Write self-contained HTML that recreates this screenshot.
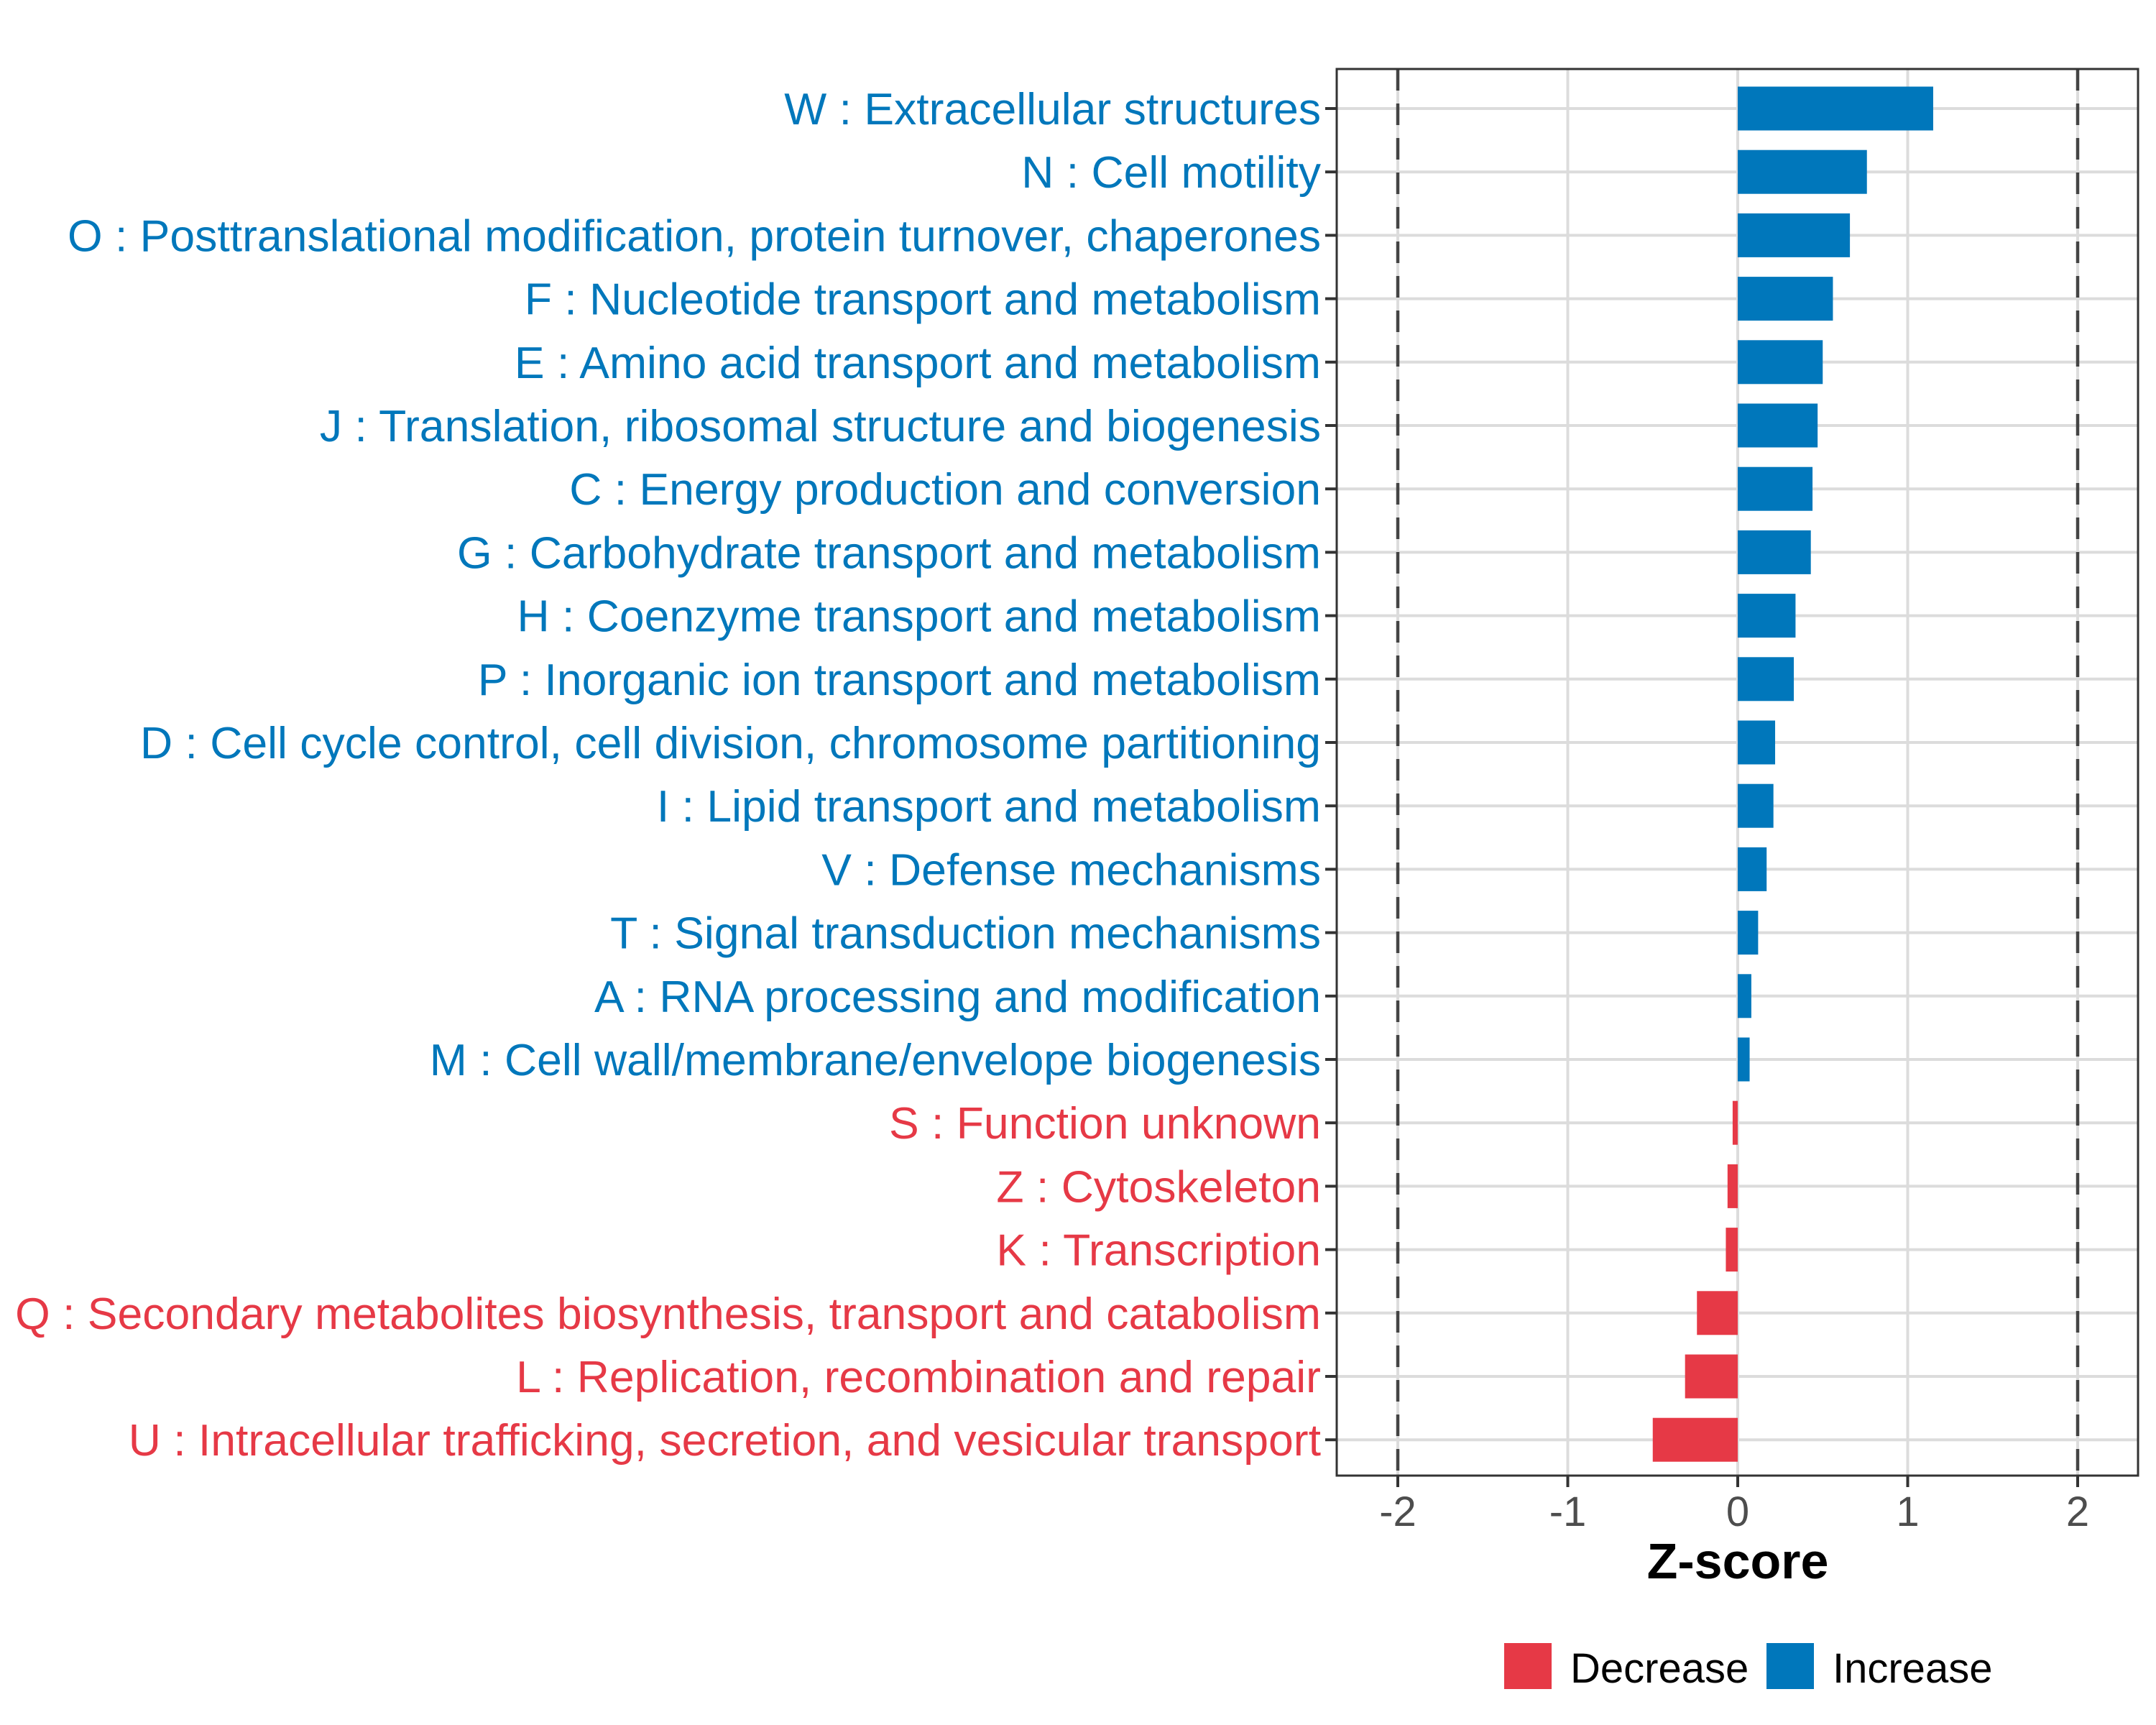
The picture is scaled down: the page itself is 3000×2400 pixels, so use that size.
<!DOCTYPE html>
<html><head><meta charset="utf-8"><style>
html,body{margin:0;padding:0;background:#fff;}
svg{display:block;font-family:"Liberation Sans",sans-serif;}
</style></head><body>
<svg id="chart" width="3000" height="2400" viewBox="0 0 3000 2400">
<rect x="0" y="0" width="3000" height="2400" fill="#fff"/>
<g id="grid"></g>
<g id="bars"></g>
<g id="ylabels"></g>
<g id="xaxis"></g>
<text x="2418" y="2196" text-anchor="middle" font-size="70" font-weight="bold" fill="#000">Z-score</text>
<g>
  <rect x="2093" y="2286" width="66" height="64" fill="#E63946"/>
  <text x="2185" y="2341" font-size="58" fill="#000">Decrease</text>
  <rect x="2458" y="2286" width="66" height="64" fill="#0077BB"/>
  <text x="2550" y="2341" font-size="58" fill="#000">Increase</text>
</g>
</svg>
<script>
const categories = [
"W : Extracellular structures",
"N : Cell motility",
"O : Posttranslational modification, protein turnover, chaperones",
"F : Nucleotide transport and metabolism",
"E : Amino acid transport and metabolism",
"J : Translation, ribosomal structure and biogenesis",
"C : Energy production and conversion",
"G : Carbohydrate transport and metabolism",
"H : Coenzyme transport and metabolism",
"P : Inorganic ion transport and metabolism",
"D : Cell cycle control, cell division, chromosome partitioning",
"I : Lipid transport and metabolism",
"V : Defense mechanisms",
"T : Signal transduction mechanisms",
"A : RNA processing and modification",
"M : Cell wall/membrane/envelope biogenesis",
"S : Function unknown",
"Z : Cytoskeleton",
"K : Transcription",
"Q : Secondary metabolites biosynthesis, transport and catabolism",
"L : Replication, recombination and repair",
"U : Intracellular trafficking, secretion, and vesicular transport"];
const zscores = [1.15,0.76,0.66,0.56,0.50,0.47,0.44,0.43,0.34,0.33,0.22,0.21,0.17,0.12,0.08,0.07,-0.03,-0.06,-0.07,-0.24,-0.31,-0.50];
const xTicks = [-2,-1,0,1,2];
const xTickLabels = ["-2","-1","0","1","2"];
const thresholds = [-2,2];

const NS="http://www.w3.org/2000/svg";
const PL=1860, PR=2975, PT=96, PB=2053;
const X0=2418, UNIT=236.5;
const ROW0=151, ROWSTEP=88.2, BARH=61;
const BLUE="#0077BB", RED="#E63946";
function xScale(v){return X0+v*UNIT;}
function yScale(i){return ROW0+i*ROWSTEP;}
function mk(tag,attrs,parent){const e=document.createElementNS(NS,tag);for(const k in attrs)e.setAttribute(k,attrs[k]);parent.appendChild(e);return e;}
const grid=document.getElementById('grid'), bars=document.getElementById('bars'), yl=document.getElementById('ylabels'), xa=document.getElementById('xaxis');

xTicks.forEach((t,i)=>{
  const l=mk('line',{x1:xScale(t),x2:xScale(t),y1:PT,y2:PB,stroke:'#dcdcdc','stroke-width':4},grid);
  
  
});
categories.forEach((c,i)=>{
  const l=mk('line',{x1:PL,x2:PR,y1:yScale(i),y2:yScale(i),stroke:'#dcdcdc','stroke-width':4},grid);
  
  
});
categories.forEach((c,i)=>{
  const v=zscores[i];
  const col=v>=0?BLUE:RED;
  const x1=xScale(Math.min(0,v)), x2=xScale(Math.max(0,v));
  const r=mk('rect',{x:x1,y:yScale(i)-BARH/2,width:x2-x1,height:BARH,fill:col},bars);
  
  
  const t=mk('text',{x:1838,y:yScale(i)+22,'text-anchor':'end','font-size':62.5,fill:col},yl);
  t.textContent=c;
  
  
  const tk=mk('line',{x1:PL-16,x2:PL,y1:yScale(i),y2:yScale(i),stroke:'#333','stroke-width':4},yl);
  
  
});
thresholds.forEach(t=>{
  const l=mk('line',{x1:xScale(t),x2:xScale(t),y1:PT,y2:PB,stroke:'#444','stroke-width':4.5,'stroke-dasharray':'30 18'},grid);
  
  
});
const fr=mk('rect',{x:PL,y:PT,width:PR-PL,height:PB-PT,fill:'none',stroke:'#333','stroke-width':3},xa);


xTicks.forEach((t,i)=>{
  const tk=mk('line',{x1:xScale(t),x2:xScale(t),y1:PB,y2:PB+16,stroke:'#333','stroke-width':4},xa);
  
  
  const tx=mk('text',{x:xScale(t),y:2123,'text-anchor':'middle','font-size':58,fill:'#4d4d4d'},xa);
  tx.textContent=xTickLabels[i];
  
  
});
</script>
</body></html>
